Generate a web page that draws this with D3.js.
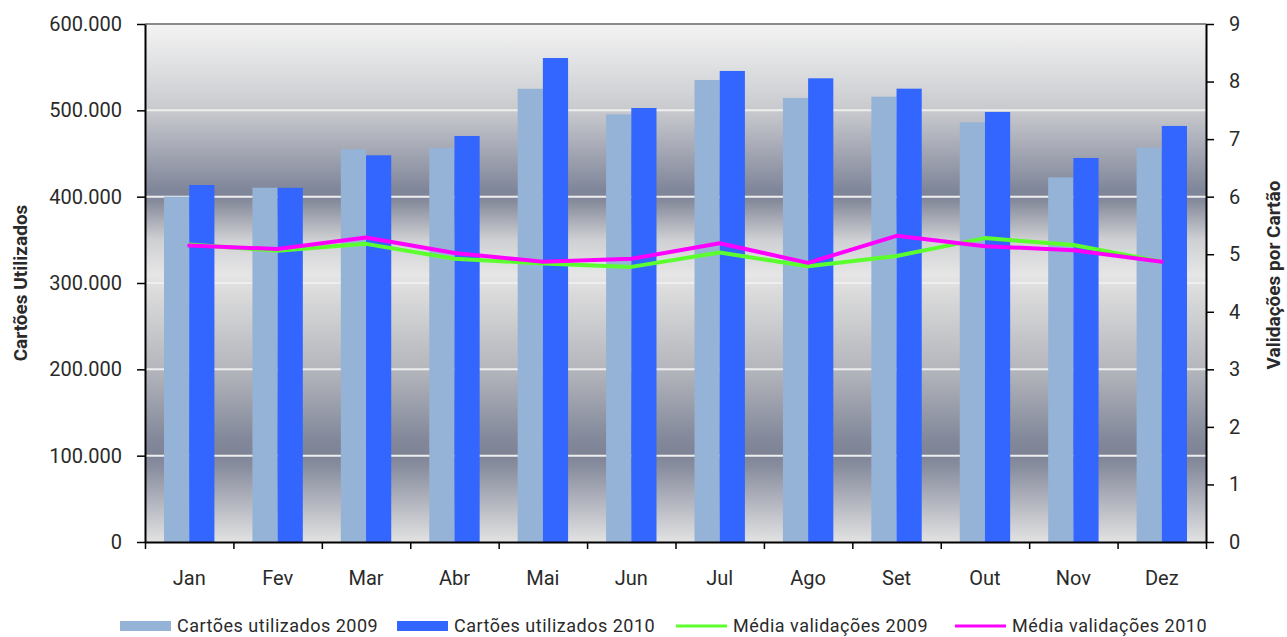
<!DOCTYPE html>
<html>
<head>
<meta charset="utf-8">
<script src="https://cdn.jsdelivr.net/npm/d3@7"></script>
<style>
  body { margin: 0; background: #fff; }
  svg text { font-family: Roboto, "DejaVu Sans", sans-serif; fill: #2a2a2a; }
</style>
</head>
<body>
<div id="chart"></div>
<script>
// Data
const months = ["Jan", "Fev", "Mar", "Abr", "Mai", "Jun", "Jul", "Ago", "Set", "Out", "Nov", "Dez"];
const cartoes2009 = [400000, 410400, 454900, 456400, 525000, 495400, 535100, 514300, 515800, 486100, 422400, 456800];
const cartoes2010 = [413500, 410200, 447900, 470300, 560600, 502700, 545600, 537100, 525100, 498100, 444800, 481900];
const media2009 = [5.17, 5.06, 5.18, 4.92, 4.84, 4.78, 5.03, 4.79, 4.97, 5.28, 5.16, 4.87];
const media2010 = [5.15, 5.09, 5.29, 5.02, 4.87, 4.92, 5.19, 4.85, 5.32, 5.14, 5.07, 4.87];
const leftTicks = [0, 100000, 200000, 300000, 400000, 500000, 600000];
const rightTicks = [0, 1, 2, 3, 4, 5, 6, 7, 8, 9];

const width = 1287;
const height = 637;
const plotLeft = 145, plotRight = 1206, plotTop = 24, plotBottom = 542;

const svg = d3.select("#chart")
    .append("svg")
    .attr("width", width)
    .attr("height", height);

// Scales
const x = d3.scaleBand().domain(months).range([plotLeft, plotRight]).padding(0);
const xSub = d3.scaleBand().domain(["2009", "2010"])
    .range([x.bandwidth() * 0.215, x.bandwidth() * 0.785]).padding(0);
const yLeft = d3.scaleLinear().domain([0, 600000]).range([plotBottom, plotTop]);
const yRight = d3.scaleLinear().domain([0, 9]).range([plotBottom, plotTop]);
const xEdges = d3.scaleLinear().domain([0, 12]).range([plotLeft, plotRight]);

const pt = d3.formatLocale({ decimal: ",", thousands: ".", grouping: [3], currency: ["", ""] });
const fmt = pt.format(",");

// Plot background gradient
const defs = svg.append("defs");
const grad = defs.append("linearGradient")
    .attr("id", "bg")
    .attr("gradientUnits", "userSpaceOnUse")
    .attr("x1", 0).attr("x2", 0)
    .attr("y1", plotTop).attr("y2", plotBottom);
const stops = [
    [24, "#f4f4f4"], [110, "#c9cace"], [190, "#80869a"], [197, "#80869a"],
    [202, "#878c9c"], [240, "#cfd0d3"], [275, "#e6e6e6"], [290, "#dcdcdc"],
    [369, "#b4b6bc"], [440, "#82889a"], [455, "#7e8496"], [468, "#8a8fa0"],
    [542, "#e2e2e2"]
];
stops.forEach(s => {
    grad.append("stop")
        .attr("offset", (s[0] - plotTop) / (plotBottom - plotTop))
        .attr("stop-color", s[1]);
});

svg.append("rect")
    .attr("x", plotLeft).attr("y", plotTop)
    .attr("width", plotRight - plotLeft).attr("height", plotBottom - plotTop)
    .attr("fill", "url(#bg)");

// Gridlines
svg.append("g")
    .selectAll("line")
    .data(leftTicks.filter(d => d > 0 && d < 600000))
    .enter()
    .append("line")
    .attr("x1", plotLeft).attr("x2", plotRight)
    .attr("y1", d => yLeft(d)).attr("y2", d => yLeft(d))
    .style("stroke", "#eeeeee")
    .style("stroke-width", 2);

// Top border
svg.append("line")
    .attr("x1", plotLeft).attr("x2", plotRight)
    .attr("y1", plotTop).attr("y2", plotTop)
    .style("stroke", "#8a8a8a")
    .style("stroke-width", 2);

// Bars
const barData = [];
months.forEach((m, i) => {
    barData.push({ month: m, year: "2009", value: cartoes2009[i] });
    barData.push({ month: m, year: "2010", value: cartoes2010[i] });
});
const barColor = { "2009": "#95b3d7", "2010": "#3366ff" };

svg.append("g")
    .selectAll("rect")
    .data(barData)
    .enter()
    .append("rect")
    .attr("x", d => x(d.month) + xSub(d.year))
    .attr("y", d => yLeft(d.value))
    .attr("width", xSub.bandwidth())
    .attr("height", d => plotBottom - yLeft(d.value))
    .style("fill", d => barColor[d.year]);

// Lines
const line = d3.line()
    .x((d, i) => x(months[i]) + x.bandwidth() / 2)
    .y(d => yRight(d));

svg.append("path")
    .datum(media2009)
    .attr("d", line)
    .style("fill", "none")
    .style("stroke", "#5cff2e")
    .style("stroke-width", 4)
    .style("stroke-linejoin", "round");

svg.append("path")
    .datum(media2010)
    .attr("d", line)
    .style("fill", "none")
    .style("stroke", "#ff00ff")
    .style("stroke-width", 4)
    .style("stroke-linejoin", "round")
    .style("stroke-linecap", "round");

// Axes
function styleAxis(g) {
    g.select(".domain").style("stroke", "#000").style("stroke-width", 2);
    g.selectAll(".tick line").style("stroke", "#000").style("stroke-width", 1.5);
    g.selectAll("text").style("font-size", "20px").style("fill", "#2a2a2a");
}

svg.append("g")
    .attr("transform", `translate(${plotLeft},0)`)
    .call(d3.axisLeft(yLeft).tickValues(leftTicks).tickFormat(fmt).tickSize(8).tickSizeOuter(0).tickPadding(15))
    .call(styleAxis);

svg.append("g")
    .attr("transform", `translate(${plotRight},0)`)
    .call(d3.axisRight(yRight).tickValues(rightTicks).tickSize(8).tickSizeOuter(0).tickPadding(15))
    .call(styleAxis);

svg.append("g")
    .attr("transform", `translate(0,${plotBottom})`)
    .call(d3.axisBottom(xEdges).ticks(12).tickFormat("").tickSize(7).tickSizeOuter(0))
    .call(styleAxis);

svg.append("g")
    .attr("transform", `translate(0,${plotBottom})`)
    .call(d3.axisBottom(x).tickSize(0).tickPadding(29))
    .call(g => g.select(".domain").remove())
    .call(g => g.selectAll("text").style("font-size", "20px").style("fill", "#2a2a2a"));

// Axis titles
svg.append("text")
    .attr("transform", `translate(27,283) rotate(-90)`)
    .attr("text-anchor", "middle")
    .style("font-size", "19px")
    .style("font-weight", "bold")
    .text("Cartões Utilizados");

svg.append("text")
    .attr("transform", `translate(1280,275) rotate(-90)`)
    .attr("text-anchor", "middle")
    .style("font-size", "19px")
    .style("font-weight", "bold")
    .text("Validações por Cartão");

// Legend
const legendItems = [
    { label: "Cartões utilizados 2009", color: "#95b3d7", type: "bar" },
    { label: "Cartões utilizados 2010", color: "#3366ff", type: "bar" },
    { label: "Média validações 2009", color: "#5cff2e", type: "line" },
    { label: "Média validações 2010", color: "#ff00ff", type: "line" }
];
const legendX = [120, 397, 676, 955];
const legendY = 626;

const legend = svg.append("g");
legendItems.forEach((d, i) => {
    const g = legend.append("g").attr("transform", `translate(${legendX[i]},${legendY})`);
    if (d.type === "bar") {
        g.append("rect")
            .attr("x", 0).attr("y", -5)
            .attr("width", 51).attr("height", 10)
            .style("fill", d.color);
    } else {
        g.append("line")
            .attr("x1", 0).attr("x2", 51)
            .attr("y1", 0).attr("y2", 0)
            .style("stroke", d.color)
            .style("stroke-width", 3);
    }
    g.append("text")
        .attr("x", 57)
        .attr("y", 6)
        .style("font-size", "18px")
        .style("letter-spacing", "0.5px")
        .text(d.label);
});
</script>
</body>
</html>
